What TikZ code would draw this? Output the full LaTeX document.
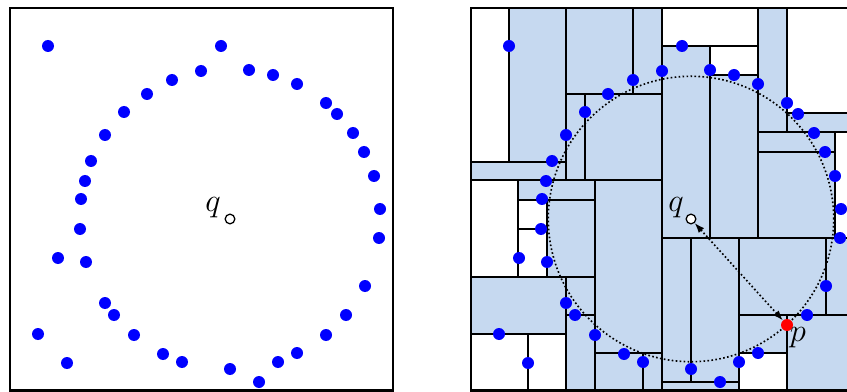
\documentclass[tikz,border=0pt]{standalone}
\usepackage{tikz}
\usetikzlibrary{arrows.meta, calc}
\definecolor{myblue}{RGB}{0,0,255}
\definecolor{myred}{RGB}{255,0,0}
\definecolor{cellblue}{RGB}{198,217,240}
\tikzset{
  pnt/.style={circle, fill=myblue, inner sep=0pt, minimum size=3.6mm},
  hitpnt/.style={circle, fill=myred, inner sep=0pt, minimum size=3.6mm},
  qpnt/.style={circle, draw=black, fill=white, line width=1.1pt, inner sep=0pt, minimum size=2.9mm},
  lbl/.style={font=\fontsize{24.88}{30}\selectfont, inner sep=0pt, scale=1.12},
  split/.style={line width=1.1pt, color=black},
  frame/.style={line width=2.5pt, color=black},
  ring/.style={dotted, line width=1.4pt, color=black}
}

\begin{document}
\begin{tikzpicture}[x=0.3mm, y=-0.3mm]
  \useasboundingbox (0,0) rectangle (847,392);
  \clip (0,0) rectangle (847,392);

  % Cells that were visited
  \fill[cellblue] (509,8) rectangle (566,162);
  \fill[cellblue] (471,162) rectangle (566,180);
  \fill[cellblue] (566,8) rectangle (662,180);
  \fill[cellblue] (518,180) rectangle (595,200);
  \fill[cellblue] (547,200) rectangle (595,277);
  \fill[cellblue] (595,180) rectangle (662,390);
  \fill[cellblue] (471,277) rectangle (566,334);
  \fill[cellblue] (566,277) rectangle (595,390);
  \fill[cellblue] (662,46) rectangle (710,238);
  \fill[cellblue] (710,75) rectangle (758,238);
  \fill[cellblue] (662,238) rectangle (739,390);
  \fill[cellblue] (739,238) rectangle (854,315);
  \fill[cellblue] (739,315) rectangle (787,353);
  \fill[cellblue] (787,315) rectangle (854,390);
  \fill[cellblue] (758,8) rectangle (787,132);
  \fill[cellblue] (787,113) rectangle (854,132);
  \fill[cellblue] (758,132) rectangle (835,238);

  % Splitting lines
  \draw[split] (509,8) -- (509,162)  (566,8) -- (566,180)  (633,8) -- (633,94)
               (585,94) -- (585,180)  (662,8) -- (662,390)  (518,180) -- (518,277)
               (547,200) -- (547,277)  (595,180) -- (595,390)  (566,277) -- (566,390)
               (528,334) -- (528,390)  (643,353) -- (643,390)  (710,46) -- (710,238)
               (758,8) -- (758,238)  (691,238) -- (691,382)  (739,238) -- (739,390)
               (787,8) -- (787,132)  (835,132) -- (835,238)  (826,238) -- (826,315)
               (787,315) -- (787,390);
  \draw[split] (471,162) -- (566,162)  (471,180) -- (662,180)  (566,94) -- (662,94)
               (518,200) -- (595,200)  (518,229) -- (547,229)  (471,277) -- (595,277)
               (471,334) -- (566,334)  (566,315) -- (595,315)  (595,353) -- (662,353)
               (662,46) -- (758,46)  (710,75) -- (758,75)  (662,238) -- (854,238)
               (662,382) -- (739,382)  (739,315) -- (854,315)  (739,353) -- (787,353)
               (787,113) -- (854,113)  (758,132) -- (854,132)  (758,152) -- (835,152);

  % Frames
  \draw[frame] (10,8) rectangle (393,390.5);
  \draw[frame] (471,8) rectangle (854,390.5);

  % Search ball around q
  \coordinate (qc) at (691,219);
  \coordinate (pc) at (787,325);
  \draw[ring] let \p1=($(pc)-(qc)$), \n1={veclen(\x1,\y1)} in (qc) circle (\n1);

  % Data points (both panels)
  \foreach \x/\y [count=\i] in {48/46, 221/46, 201/71, 172/80, 147/94, 124/112, 105/135,
      91/161, 85/181, 81/199, 249/70, 273/75, 297/84, 326/103, 337/114, 353/133,
      364/152, 374/176, 380/209, 379/238, 365/286, 346/315, 297/353, 278/362,
      259/382, 230/369, 182/362, 163/354, 134/335, 114/315, 105/303, 86/262,
      80/229, 58/258, 38/334, 67/363} {
    \node[pnt] (a\i) at (\x,\y) {};
    \node[pnt] (b\i) at (\x+461,\y) {};
  }
  \node[pnt] (a37) at (326,335) {};

  % Query points and nearest neighbour
  \node[qpnt] (q1) at (230,219) {};
  \node[lbl] (q1lbl) at (213,208) {$q$};
  \node[hitpnt] (p) at (pc) {};
  \node[qpnt] (q2) at (qc) {};
  \node[lbl] (q2lbl) at (676,208) {$q$};
  \node[lbl] (plbl) at (798,338) {$p$};
  \draw[ring, {Latex[length=3mm,width=2.2mm]}-{Latex[length=3mm,width=2.2mm]}] (q2) -- (p);
\end{tikzpicture}
\end{document}
